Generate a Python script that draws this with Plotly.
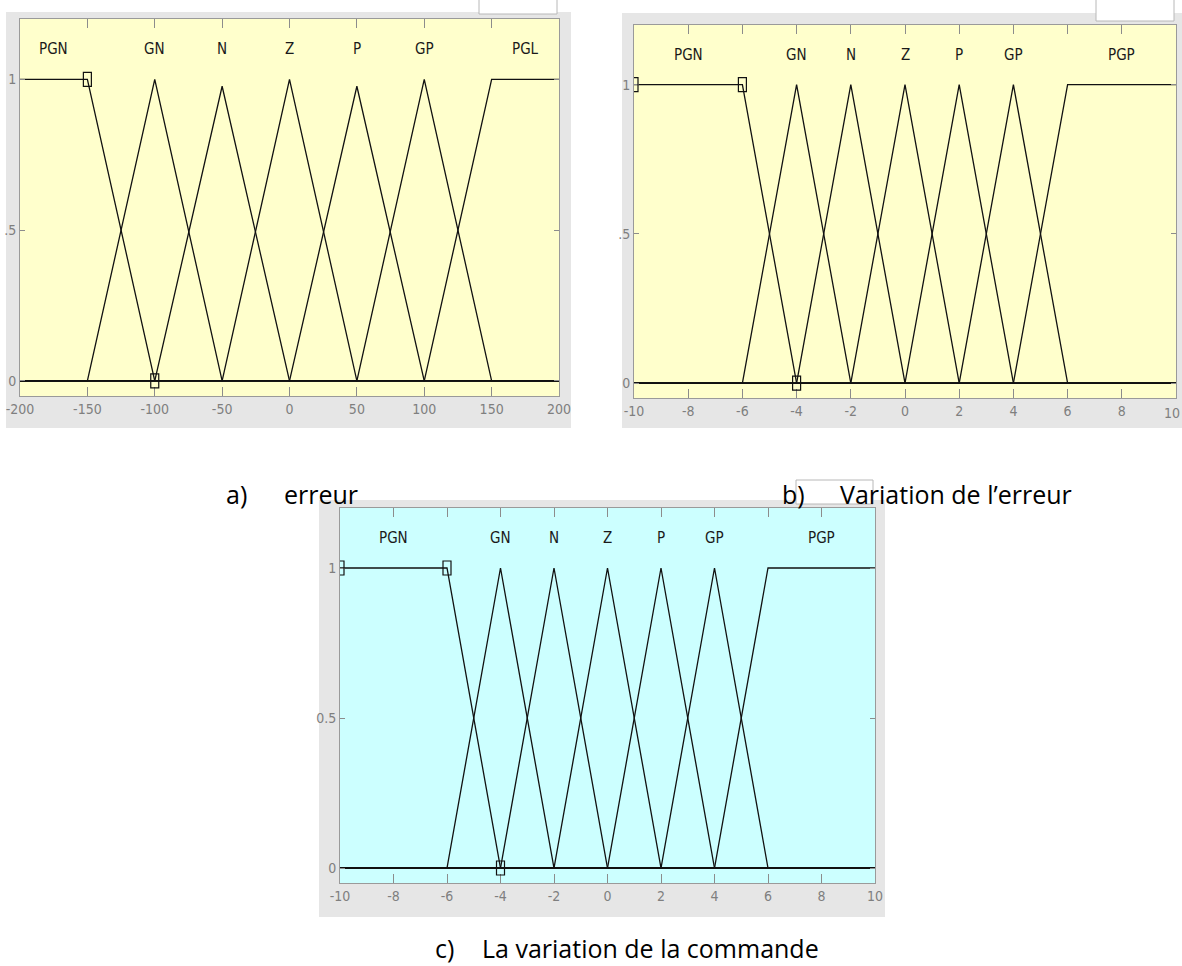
import plotly.graph_objects as go

# ---- membership-function data -------------------------------------------
# Panel a: erreur
erreur_range = [-200, 200]
erreur_ticks = [-200, -150, -100, -50, 0, 50, 100, 150, 200]
erreur_names = ["PGN", "GN", "N", "Z", "P", "GP", "PGL"]
erreur_name_x = [-175, -100, -50, 0, 50, 100, 175]
erreur_mf_x = [
    [-200, -150, -100, 200],
    [-200, -150, -100, -50, 200],
    [-200, -100, -50, 0, 200],
    [-200, -50, 0, 50, 200],
    [-200, 0, 50, 100, 200],
    [-200, 50, 100, 150, 200],
    [-200, 100, 150, 200],
]
erreur_mf_y = [
    [1, 1, 0, 0],
    [0, 0, 1, 0, 0],
    [0, 0, 0.977, 0, 0],
    [0, 0, 1, 0, 0],
    [0, 0, 0.977, 0, 0],
    [0, 0, 1, 0, 0],
    [0, 0, 1, 1],
]
erreur_handles_x = [-150, -100]
erreur_handles_y = [1, 0]

# Panel b: variation de l'erreur
derreur_range = [-10, 10]
derreur_ticks = [-10, -8, -6, -4, -2, 0, 2, 4, 6, 8, 10]
derreur_names = ["PGN", "GN", "N", "Z", "P", "GP", "PGP"]
derreur_name_x = [-8, -4, -2, 0, 2, 4, 8]
derreur_mf_x = [
    [-10, -6, -4, 10],
    [-10, -6, -4, -2, 10],
    [-10, -4, -2, 0, 10],
    [-10, -2, 0, 2, 10],
    [-10, 0, 2, 4, 10],
    [-10, 2, 4, 6, 10],
    [-10, 4, 6, 10],
]
derreur_mf_y = [
    [1, 1, 0, 0],
    [0, 0, 1, 0, 0],
    [0, 0, 1, 0, 0],
    [0, 0, 1, 0, 0],
    [0, 0, 1, 0, 0],
    [0, 0, 1, 0, 0],
    [0, 0, 1, 1],
]
derreur_handles_x = [-10, -6, -4]
derreur_handles_y = [1, 1, 0]

# Panel c: variation de la commande
commande_range = [-10, 10]
commande_ticks = [-10, -8, -6, -4, -2, 0, 2, 4, 6, 8, 10]
commande_names = ["PGN", "GN", "N", "Z", "P", "GP", "PGP"]
commande_name_x = [-8, -4, -2, 0, 2, 4, 8]
commande_mf_x = derreur_mf_x
commande_mf_y = derreur_mf_y
commande_handles_x = [-10, -6, -4]
commande_handles_y = [1, 1, 0]

y_range = [-0.05, 1.2]
y_ticks = [0, 0.5, 1]
y_ticktext_ab = ["0", ".5", "1"]
y_ticktext_c = ["0", "0.5", "1"]

# ---- page geometry (pixels) ---------------------------------------------
W, H = 1182, 966


def px(x):
    return x / W


def py(y):
    return 1 - y / H


YELLOW = "#FFFFCC"
CYAN = "#CCFFFF"
GREY = "#E6E6E6"
FRAME = "#9A9A9A"
TICKFONT = dict(family="Liberation Sans Narrow, Arial Narrow, DejaVu Sans Condensed, sans-serif",
                size=14, color="#7F7F7F")
NAMEFONT = dict(family="Liberation Sans Narrow, Arial Narrow, DejaVu Sans Condensed, sans-serif",
                size=15, color="#1A1A1A")
CAPFONT = dict(family="Open Sans, Lato, sans-serif", size=25, color="#000000")

panels = [
    dict(ax="", box=(20, 19, 559, 396), grey=(6, 12, 571, 428), bg=YELLOW,
         xr=erreur_range, xt=erreur_ticks, mx=erreur_mf_x, my=erreur_mf_y,
         names=erreur_names, nx=erreur_name_x, hx=erreur_handles_x, hy=erreur_handles_y,
         ytext=y_ticktext_ab, tab=(479, -2, 557, 14), edge_label=False),
    dict(ax="2", box=(634, 25, 1176, 398), grey=(622, 13, 1182, 428), bg=YELLOW,
         xr=derreur_range, xt=derreur_ticks, mx=derreur_mf_x, my=derreur_mf_y,
         names=derreur_names, nx=derreur_name_x, hx=derreur_handles_x, hy=derreur_handles_y,
         ytext=y_ticktext_ab, tab=(1096, -2, 1174, 21), edge_label=True),
    dict(ax="3", box=(340, 508, 875, 883), grey=(319, 500, 885, 917), bg=CYAN,
         xr=commande_range, xt=commande_ticks, mx=commande_mf_x, my=commande_mf_y,
         names=commande_names, nx=commande_name_x, hx=commande_handles_x, hy=commande_handles_y,
         ytext=y_ticktext_c, tab=(796, 480, 873, 504), edge_label=False),
]

fig = go.Figure()
shapes = []
annotations = []
layout = {}

for p in panels:
    xa = "x" + p["ax"]
    ya = "y" + p["ax"]
    x0, y0, x1, y1 = p["box"]

    # grey figure area behind each axes
    gx0, gy0, gx1, gy1 = p["grey"]
    shapes.append(dict(type="rect", xref="paper", yref="paper",
                       x0=px(gx0), x1=px(gx1), y0=py(gy1), y1=py(gy0),
                       fillcolor=GREY, line=dict(width=0), layer="below"))
    # small white tab at the top-right corner
    tx0, ty0, tx1, ty1 = p["tab"]
    shapes.append(dict(type="rect", xref="paper", yref="paper",
                       x0=px(tx0), x1=px(tx1), y0=py(ty1), y1=py(ty0),
                       fillcolor="#FFFFFF", line=dict(color="#B8B8B8", width=1), layer="below"))
    # coloured axes background
    shapes.append(dict(type="rect", xref=xa, yref=ya,
                       x0=p["xr"][0], x1=p["xr"][1], y0=y_range[0], y1=y_range[1],
                       fillcolor=p["bg"], line=dict(width=0), layer="below"))

    for mx, my in zip(p["mx"], p["my"]):
        fig.add_trace(go.Scatter(x=mx, y=my, mode="lines", xaxis=xa, yaxis=ya,
                                 line=dict(color="#111111", width=1.3),
                                 hoverinfo="skip", showlegend=False))

    # vertex handles of the selected membership function
    for hx, hy in zip(p["hx"], p["hy"]):
        shapes.append(dict(type="rect", xref=xa, yref=ya,
                           xsizemode="pixel", ysizemode="pixel",
                           xanchor=hx, yanchor=hy, x0=-4, x1=4, y0=-7, y1=7,
                           line=dict(color="#111111", width=1.2), fillcolor="rgba(0,0,0,0)"))

    for name, nx in zip(p["names"], p["nx"]):
        annotations.append(dict(x=nx, y=1.1, xref=xa, yref=ya, text=name, showarrow=False,
                                font=NAMEFONT, xanchor="center", yanchor="middle"))

    ticktext = [str(t) for t in p["xt"]]
    if p["edge_label"]:
        # last label sits on the page edge: draw it right-aligned to the edge instead
        annotations.append(dict(x=1.0, y=py(413), xref="paper", yref="paper",
                                text=ticktext[-1], showarrow=False, font=TICKFONT,
                                xanchor="right", yanchor="middle"))
        ticktext[-1] = ""

    axis_common = dict(showgrid=False, zeroline=False, showline=True, linecolor=FRAME,
                       linewidth=1, mirror="ticks", ticks="inside", ticklen=9,
                       tickcolor="#8C8C8C", tickfont=TICKFONT, fixedrange=True,
                       automargin=False)
    layout["xaxis" + p["ax"]] = dict(axis_common, range=p["xr"], tickvals=p["xt"],
                                     ticktext=ticktext,
                                     domain=[px(x0), px(x1)], anchor=ya)
    layout["yaxis" + p["ax"]] = dict(axis_common, range=y_range, tickvals=y_ticks,
                                     ticktext=p["ytext"], ticklen=5,
                                     domain=[py(y1), py(y0)], anchor=xa)

# captions
captions = [
    ("a)", 224, 494), ("erreur", 282, 494),
    ("b)", 780, 494), ("Variation de l\u2019erreur", 838, 494),
    ("c)", 433, 948), ("La variation de la commande", 480, 948),
]
for text, cx, cy in captions:
    annotations.append(dict(x=px(cx), y=py(cy), xref="paper", yref="paper", text=text,
                            showarrow=False, font=CAPFONT, xanchor="left", yanchor="middle"))

fig.update_layout(
    width=W, height=H,
    margin=dict(l=0, r=0, t=0, b=0, autoexpand=False),
    paper_bgcolor="#FFFFFF",
    plot_bgcolor="rgba(0,0,0,0)",
    shapes=shapes,
    annotations=annotations,
    showlegend=False,
    **layout,
)

fig.write_html("out.html")
